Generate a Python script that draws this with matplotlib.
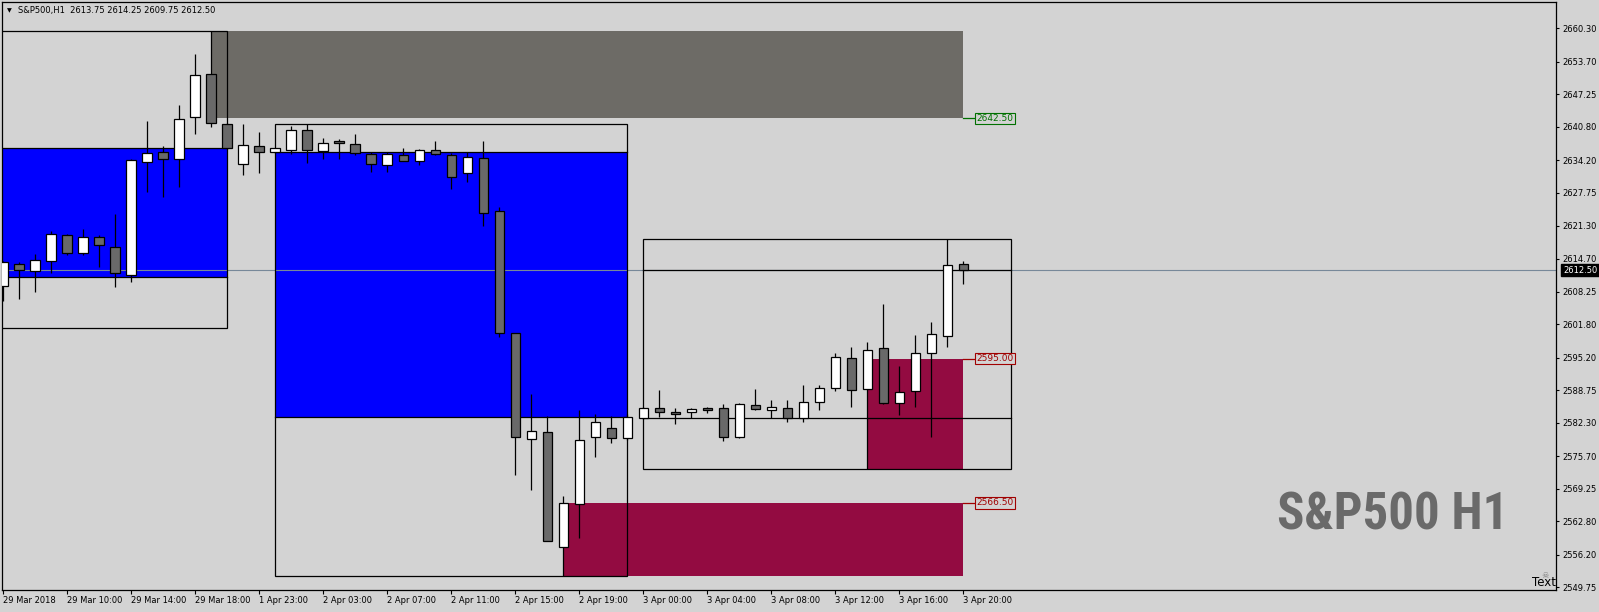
#!/usr/bin/env python3
"""S&P500 H1 candlestick chart with supply/demand zones, drawn MT4 style."""

import matplotlib

matplotlib.use("Agg")
import matplotlib.pyplot as plt
import matplotlib.transforms as mtransforms
from matplotlib.patches import Rectangle

OUT = "out.png"
W_PX, H_PX, DPI = 1599, 612, 100

# plot area in figure pixels: left, top, right, bottom
AX_L, AX_T, AX_R, AX_B = 2, 2, 1556, 590
Y_TOP, Y_BOT = 2665.52, 2549.23
X_LEFT, X_RIGHT = -0.08, 97.04

BG = "#D3D3D3"
BEAR = "#696969"
BULL = "#FFFFFF"
BLUE = "#0000FF"
SUPPLY_C = "#6D6B66"
DEMAND_C = "#930B41"
GREEN_LBL = "#007000"
RED_LBL = "#A00000"
BID_C = "#778899"

# one H1 bar per entry, oldest first
OPEN = [2609.40, 2613.75, 2612.25, 2614.23, 2619.37, 2615.81, 2618.97, 2617.00,
        2611.46, 2633.81, 2635.85, 2634.40, 2642.71, 2651.28, 2641.33, 2633.42,
        2636.98, 2635.79, 2636.30, 2640.14, 2636.11, 2637.97, 2637.37, 2635.39,
        2633.22, 2635.20, 2634.13, 2636.19, 2635.20, 2631.64, 2634.60, 2624.12,
        2599.98, 2579.13, 2580.40, 2557.77, 2566.16, 2579.41, 2581.19, 2579.21,
        2583.17, 2585.15, 2584.42, 2584.36, 2585.15, 2585.15, 2579.41, 2585.74,
        2584.75, 2585.15, 2583.17, 2586.33, 2589.10, 2595.04, 2588.91, 2597.02,
        2586.14, 2588.51, 2596.03, 2599.39, 2613.75]
HIGH = [2614.30, 2614.03, 2615.67, 2620.22, 2619.57, 2620.62, 2619.37, 2623.58,
        2634.40, 2641.98, 2637.04, 2645.09, 2655.24, 2659.76, 2641.60, 2641.39,
        2639.81, 2636.70, 2640.99, 2641.39, 2638.62, 2638.36, 2639.41, 2635.79,
        2635.79, 2636.58, 2636.38, 2638.03, 2635.60, 2635.79, 2638.03, 2624.91,
        2600.10, 2587.98, 2583.62, 2567.80, 2584.81, 2584.00, 2583.62, 2584.00,
        2585.40, 2588.71, 2585.15, 2585.15, 2585.35, 2586.00, 2586.14, 2588.97,
        2586.73, 2586.73, 2589.70, 2589.70, 2596.03, 2597.21, 2598.20, 2605.78,
        2593.52, 2599.69, 2602.16, 2618.58, 2614.25]
LOW = [2606.43, 2606.83, 2608.21, 2611.97, 2615.47, 2615.47, 2613.04, 2609.20,
       2610.13, 2628.00, 2627.01, 2628.98, 2639.35, 2640.85, 2636.45, 2631.36,
       2631.62, 2635.60, 2635.39, 2633.73, 2634.40, 2634.52, 2635.20, 2631.95,
       2631.95, 2634.13, 2633.34, 2635.20, 2628.59, 2629.97, 2621.31, 2599.31,
       2571.95, 2568.99, 2558.90, 2552.00, 2559.55, 2575.57, 2578.22, 2578.80,
       2583.00, 2583.48, 2581.98, 2583.17, 2584.16, 2578.74, 2579.30, 2584.90,
       2583.17, 2582.50, 2582.50, 2584.75, 2588.51, 2585.35, 2573.14, 2586.10,
       2583.88, 2585.35, 2579.41, 2597.21, 2609.75]
CLOSE = [2614.03, 2612.45, 2614.54, 2619.57, 2615.81, 2618.97, 2617.39, 2611.85,
         2634.21, 2635.59, 2634.40, 2642.32, 2651.02, 2641.65, 2636.58, 2637.23,
         2635.79, 2636.60, 2640.14, 2636.30, 2637.57, 2637.57, 2635.59, 2633.42,
         2635.39, 2634.13, 2636.19, 2635.39, 2630.96, 2634.80, 2623.88, 2599.98,
         2579.41, 2580.60, 2558.96, 2566.35, 2578.82, 2582.38, 2579.21, 2583.37,
         2585.15, 2584.36, 2584.08, 2584.95, 2584.87, 2579.41, 2585.94, 2584.95,
         2585.35, 2583.17, 2586.33, 2589.10, 2595.24, 2588.71, 2596.62, 2586.14,
         2588.43, 2596.03, 2599.79, 2613.44, 2612.50]

X_TICKS = list(range(0, 61, 4))
X_LABELS = ["29 Mar 2018", "29 Mar 10:00", "29 Mar 14:00", "29 Mar 18:00",
            "1 Apr 23:00", "2 Apr 03:00", "2 Apr 07:00", "2 Apr 11:00",
            "2 Apr 15:00", "2 Apr 19:00", "3 Apr 00:00", "3 Apr 04:00",
            "3 Apr 08:00", "3 Apr 12:00", "3 Apr 16:00", "3 Apr 20:00"]
Y_TICKS = [2660.30, 2653.70, 2647.25, 2640.80, 2634.20, 2627.75, 2621.30,
           2614.70, 2608.25, 2601.80, 2595.20, 2588.75, 2582.30, 2575.70,
           2569.25, 2562.80, 2556.20, 2549.75]

BID = 2612.50
HEADER = "S&P500,H1  2613.75 2614.25 2609.75 2612.50"

# zones: (first bar, last bar, low price, high price)
SUPPLY_ZONE = (13, 60, 2642.50, 2659.76)
DEMAND_ZONES = [(35, 60, 2552.00, 2566.50), (54, 60, 2573.14, 2595.00)]
BLUE_ZONES = [(-2, 14, 2611.10, 2636.60), (17, 39, 2583.40, 2635.80)]
RANGE_BOXES = [(-2, 14, 2601.00, 2659.76), (17, 39, 2552.00, 2641.39),
               (40, 63, 2573.14, 2618.58)]
RANGE_LEVELS = [(-2, 14, 2611.10, 2636.60), (17, 39, 2583.40, 2635.80),
                (40, 63, 2583.17, 2612.45)]
ZONE_LABELS = [(2642.50, "2642.50", GREEN_LBL), (2595.00, "2595.00", RED_LBL),
               (2566.50, "2566.50", RED_LBL)]


def draw_candles(ax):
    body_w = 0.6
    for i, (o, h, l, c) in enumerate(zip(OPEN, HIGH, LOW, CLOSE)):
        ax.plot([i, i], [l, h], color="black", lw=0.9, zorder=4,
                solid_capstyle="butt")
        lo, hi = min(o, c), max(o, c)
        if hi - lo < 0.25:
            hi = lo + 0.25
        face = BULL if c >= o else BEAR
        ax.add_patch(Rectangle((i - body_w / 2, lo), body_w, hi - lo,
                               facecolor=face, edgecolor="black", lw=0.9,
                               zorder=5))


def draw_zones(ax):
    x0, x1, lo, hi = SUPPLY_ZONE
    ax.add_patch(Rectangle((x0, lo), x1 - x0, hi - lo, facecolor=SUPPLY_C,
                           edgecolor="none", zorder=1))
    for x0, x1, lo, hi in DEMAND_ZONES:
        ax.add_patch(Rectangle((x0, lo), x1 - x0, hi - lo, facecolor=DEMAND_C,
                               edgecolor="none", zorder=1))
    for x0, x1, lo, hi in BLUE_ZONES:
        ax.add_patch(Rectangle((x0, lo), x1 - x0, hi - lo, facecolor=BLUE,
                               edgecolor="none", zorder=1))
    for x0, x1, lo, hi in RANGE_BOXES:
        ax.add_patch(Rectangle((x0, lo), x1 - x0, hi - lo, facecolor="none",
                               edgecolor="black", lw=0.9, zorder=3))
    for x0, x1, lo, hi in RANGE_LEVELS:
        ax.plot([x0, x1], [lo, lo], color="black", lw=0.9, zorder=3)
        ax.plot([x0, x1], [hi, hi], color="black", lw=0.9, zorder=3)

    for price, text, color in ZONE_LABELS:
        ax.plot([60, 60.73], [price, price], color=color, lw=0.9, zorder=3)
        ax.text(60.82, price, text, ha="left", va="center", fontsize=6.5,
                color=color, zorder=6,
                bbox=dict(boxstyle="square,pad=0.15", fc=BG, ec=color, lw=0.8))


def main():
    fig = plt.figure(figsize=(W_PX / DPI, H_PX / DPI), dpi=DPI, facecolor=BG)
    ax = fig.add_axes([AX_L / W_PX, 1 - AX_B / H_PX,
                       (AX_R - AX_L) / W_PX, (AX_B - AX_T) / H_PX])
    ax.set_facecolor(BG)
    ax.set_xlim(X_LEFT, X_RIGHT)
    ax.set_ylim(Y_BOT, Y_TOP)

    draw_zones(ax)
    ax.axhline(BID, color=BID_C, lw=0.8, zorder=2)
    draw_candles(ax)

    for sp in ax.spines.values():
        sp.set_color("black")
        sp.set_linewidth(0.9)

    ax.yaxis.tick_right()
    ax.set_yticks(Y_TICKS)
    ax.set_yticklabels([f"{v:.2f}" for v in Y_TICKS])
    ax.tick_params(axis="y", length=2.5, width=0.8, pad=1.8, labelsize=6)
    ax.set_xticks(X_TICKS)
    ax.set_xticklabels(X_LABELS)
    ax.tick_params(axis="x", length=3, width=0.8, pad=1.5, labelsize=6)
    for lbl in ax.get_xticklabels():
        lbl.set_horizontalalignment("left")

    # current bid price tag on the price scale
    trans = mtransforms.blended_transform_factory(ax.transAxes, ax.transData)
    ax.text(1.0045, BID, f"{BID:.2f}", transform=trans, ha="left",
            va="center", fontsize=6, color="white", clip_on=False,
            bbox=dict(boxstyle="square,pad=0.22", fc="black", ec="black"))

    fig.text(9.7 / W_PX, 1 - 10.7 / H_PX, "\u25bc", ha="center", va="center",
             fontsize=4.5, color="black")
    fig.text(18 / W_PX, 1 - 10.7 / H_PX, HEADER, ha="left", va="center",
             fontsize=6, color="black")

    # chart watermark; the original face is a tall condensed bold
    fig.text(1393 / W_PX, 1 - 516 / H_PX, "S&P500 H1", ha="center",
             va="center", fontsize=36.5, fontweight="bold", color="#6A6A6A",
             family=["Roboto Condensed", "Roboto", "DejaVu Sans"])

    fig.text(1545.5 / W_PX, 1 - 575 / H_PX, "\u2620", ha="center",
             va="center", fontsize=6, color="#808080")
    fig.text(1556 / W_PX, 1 - 583 / H_PX, "Text", ha="right", va="center",
             fontsize=8.5, color="black")

    fig.savefig(OUT, dpi=DPI, facecolor=BG)
    plt.close(fig)


if __name__ == "__main__":
    main()
